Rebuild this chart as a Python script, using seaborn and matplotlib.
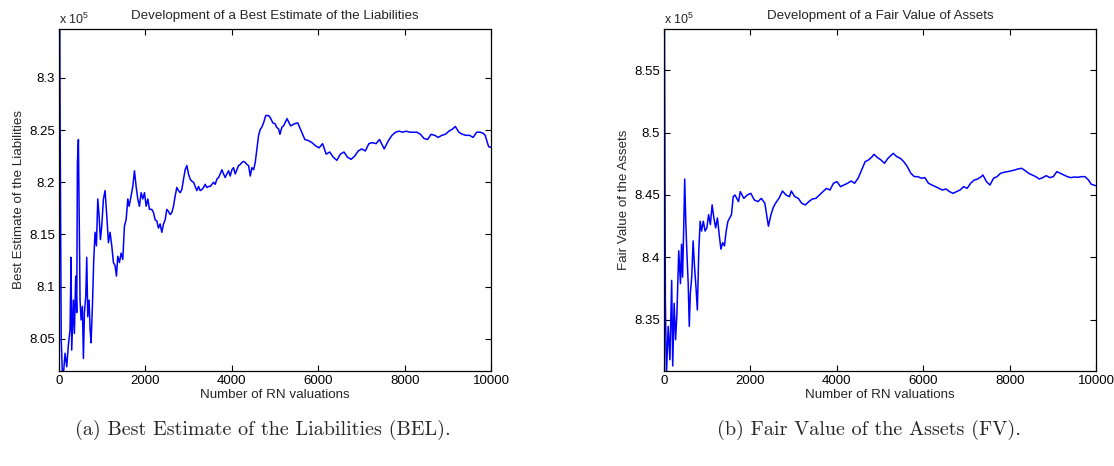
import numpy as np
import pandas as pd
import matplotlib
matplotlib.use("Agg")
import matplotlib.pyplot as plt
import seaborn as sns
from matplotlib.ticker import FuncFormatter, FixedLocator

# ---------------- data (values in units of 1e5) ----------------
bel_n = [1, 20, 50, 80, 100, 139, 178, 216, 255, 278, 293, 332, 355, 386, 409, 425, 448, 463,
         486, 510, 540, 564, 587, 618, 641, 664, 695, 718, 741, 772, 803, 834, 865, 896, 926,
         957, 988, 1027, 1065, 1104, 1143, 1181, 1220, 1258, 1297, 1328, 1359, 1397, 1436,
         1475, 1513, 1552, 1591, 1621, 1668, 1706, 1745, 1783, 1822, 1860, 1899, 1938, 1976,
         2015, 2054, 2092, 2146, 2185, 2223, 2262, 2300, 2339, 2378, 2416, 2455, 2493, 2532,
         2570, 2609, 2648, 2687, 2725, 2764, 2802, 2841, 2880, 2918, 2957, 2995, 3034, 3073,
         3111, 3150, 3189, 3227, 3266, 3304, 3343, 3381, 3420, 3459, 3497, 3536, 3575, 3613,
         3652, 3690, 3729, 3767, 3806, 3844, 3883, 3922, 3960, 3999, 4037, 4076, 4115, 4153,
         4192, 4231, 4269, 4308, 4346, 4385, 4424, 4462, 4501, 4539, 4578, 4617, 4658, 4694,
         4732, 4782, 4848, 4887, 4946, 5003, 5029, 5080, 5111, 5157, 5193, 5275, 5358, 5440,
         5522, 5604, 5687, 5769, 5851, 5934, 6016, 6098, 6180, 6263, 6345, 6427, 6509, 6592,
         6674, 6756, 6839, 6921, 7003, 7086, 7168, 7250, 7333, 7415, 7522, 7621, 7703, 7786,
         7868, 7950, 8032, 8115, 8197, 8279, 8361, 8444, 8526, 8608, 8691, 8773, 8855, 8938,
         9020, 9102, 9168, 9250, 9333, 9415, 9497, 9580, 9662, 9744, 9810, 9860, 9909, 9942,
         9991]
bel_v = [8.70, 8.30, 8.05, 8.012, 8.015, 8.036, 8.023, 8.044, 8.059, 8.128, 8.039, 8.087, 8.055,
         8.110, 8.075, 8.219, 8.241, 8.184, 8.087, 8.068, 8.081, 8.031, 8.075, 8.091, 8.128,
         8.071, 8.087, 8.059, 8.046, 8.081, 8.126, 8.152, 8.139, 8.184, 8.168, 8.145, 8.158,
         8.184, 8.192, 8.168, 8.142, 8.152, 8.139, 8.123, 8.120, 8.110, 8.129, 8.123, 8.132,
         8.126, 8.158, 8.164, 8.184, 8.177, 8.187, 8.196, 8.211, 8.196, 8.184, 8.177, 8.190,
         8.184, 8.190, 8.177, 8.184, 8.174, 8.174, 8.171, 8.164, 8.163, 8.156, 8.160, 8.152,
         8.160, 8.164, 8.174, 8.172, 8.169, 8.171, 8.177, 8.187, 8.195, 8.192, 8.190, 8.193,
         8.203, 8.212, 8.216, 8.208, 8.203, 8.201, 8.200, 8.196, 8.192, 8.196, 8.192, 8.193,
         8.195, 8.198, 8.195, 8.196, 8.196, 8.198, 8.200, 8.198, 8.203, 8.2045, 8.208, 8.212,
         8.208, 8.2045, 8.208, 8.211, 8.206, 8.212, 8.214, 8.208, 8.212, 8.216, 8.217, 8.219,
         8.220, 8.219, 8.217, 8.216, 8.206, 8.214, 8.212, 8.219, 8.232, 8.245, 8.251, 8.253,
         8.257, 8.264, 8.264, 8.262, 8.257, 8.256, 8.253, 8.251, 8.246, 8.253, 8.254, 8.261,
         8.254, 8.256, 8.257, 8.249, 8.241, 8.240, 8.238, 8.235, 8.233, 8.237, 8.227, 8.229,
         8.224, 8.221, 8.227, 8.229, 8.224, 8.222, 8.225, 8.230, 8.232, 8.230, 8.237, 8.238,
         8.237, 8.241, 8.232, 8.240, 8.245, 8.248, 8.249, 8.248, 8.249, 8.248, 8.248, 8.248,
         8.246, 8.242, 8.241, 8.246, 8.245, 8.243, 8.245, 8.246, 8.249, 8.251, 8.2535, 8.248,
         8.246, 8.245, 8.245, 8.243, 8.248, 8.248, 8.247, 8.245, 8.238, 8.234, 8.2335]

fv_n = [1, 33, 57, 98, 138, 179, 203, 236, 269, 301, 342, 382, 407, 431, 464, 480, 505, 529, 561,
        586, 610, 643, 675, 708, 741, 773, 806, 838, 871, 911, 952, 993, 1033, 1074, 1115, 1155,
        1196, 1237, 1278, 1318, 1359, 1400, 1440, 1481, 1522, 1562, 1603, 1644, 1725, 1766, 1847,
        1928, 2010, 2091, 2173, 2254, 2335, 2376, 2417, 2474, 2530, 2579, 2661, 2742, 2824, 2905,
        2946, 3027, 3108, 3190, 3271, 3352, 3434, 3515, 3597, 3678, 3759, 3841, 3922, 4003, 4085,
        4166, 4248, 4329, 4410, 4492, 4573, 4655, 4736, 4817, 4858, 4939, 5020, 5102, 5183, 5305,
        5387, 5468, 5549, 5631, 5712, 5794, 5875, 5956, 6038, 6119, 6200, 6282, 6363, 6444, 6526,
        6607, 6689, 6770, 6851, 6933, 7014, 7096, 7177, 7258, 7340, 7380, 7462, 7543, 7625, 7706,
        7787, 7869, 7950, 8031, 8113, 8194, 8276, 8357, 8438, 8520, 8601, 8683, 8764, 8845, 8927,
        9008, 9090, 9171, 9252, 9334, 9415, 9496, 9578, 9659, 9740, 9822, 9887, 9944, 9985]
fv_v = [8.70, 8.3658, 8.305, 8.3447, 8.318, 8.3816, 8.313, 8.3632, 8.334, 8.3553, 8.4053, 8.379,
        8.4105, 8.3842, 8.434, 8.4628, 8.429, 8.4053, 8.379, 8.3447, 8.371, 8.3842, 8.4132,
        8.3921, 8.3763, 8.3579, 8.4053, 8.429, 8.4211, 8.429, 8.4211, 8.4237, 8.4342, 8.4263,
        8.4421, 8.4316, 8.4237, 8.4316, 8.4184, 8.4066, 8.4118, 8.4092, 8.4211, 8.429, 8.4316,
        8.4342, 8.4487, 8.450, 8.4447, 8.4527, 8.4473, 8.450, 8.4513, 8.446, 8.4447, 8.4473,
        8.4433, 8.4342, 8.425, 8.434, 8.440, 8.4433, 8.4473, 8.4532, 8.450, 8.4487, 8.4532,
        8.4487, 8.4473, 8.4433, 8.442, 8.4447, 8.4468, 8.4473, 8.450, 8.4527, 8.4553, 8.454,
        8.4594, 8.4607, 8.4567, 8.458, 8.4594, 8.4612, 8.4594, 8.4634, 8.470, 8.4767, 8.4781,
        8.4807, 8.4826, 8.480, 8.4781, 8.4754, 8.4794, 8.4834, 8.4807, 8.4794, 8.4767, 8.4727,
        8.4674, 8.4647, 8.4647, 8.4634, 8.4639, 8.4594, 8.458, 8.4567, 8.4553, 8.454, 8.4548,
        8.4527, 8.4513, 8.4527, 8.454, 8.4567, 8.4553, 8.4594, 8.462, 8.4628, 8.4647, 8.466,
        8.4607, 8.458, 8.4634, 8.4647, 8.4674, 8.4682, 8.4687, 8.4693, 8.470, 8.4709, 8.4714,
        8.4695, 8.4674, 8.466, 8.4647, 8.4628, 8.4639, 8.4655, 8.4639, 8.4647, 8.4687, 8.4674,
        8.466, 8.4647, 8.4639, 8.4644, 8.4642, 8.4647, 8.4647, 8.462, 8.4586, 8.458, 8.4575]

x_ticks = [0, 2000, 4000, 6000, 8000, 10000]
bel_yticks = [8.05, 8.1, 8.15, 8.2, 8.25, 8.3]
fv_yticks = [8.35, 8.4, 8.45, 8.5, 8.55]

titles = ["Development of a Best Estimate of the Liabilities", "Development of a Fair Value of Assets"]
ylabels = ["Best Estimate of the Liabilities", "Fair Value of the Assets"]
xlabel = "Number of RN valuations"
captions = ["(a) Best Estimate of the Liabilities (BEL).", "(b) Fair Value of the Assets (FV)."]

# ---------------- style ----------------
sns.set_style("ticks")
plt.rcParams["font.family"] = ["Liberation Sans", "DejaVu Sans"]
plt.rcParams["mathtext.fontset"] = "custom"
plt.rcParams["mathtext.rm"] = "Liberation Sans"
plt.rcParams["mathtext.it"] = "Liberation Sans:italic"

fig = plt.figure(figsize=(11.14, 4.66), dpi=100)
axes = [fig.add_axes([0.053, 0.2039, 0.3880, 0.7339]),
        fig.add_axes([0.596, 0.2039, 0.3880, 0.7339])]

data = [(bel_n, bel_v, bel_yticks, (8.019, 8.347)),
        (fv_n, fv_v, fv_yticks, (8.309, 8.583))]

fmt = FuncFormatter(lambda v, p: "%g" % round(v, 4))
caption_x = [0.236, 0.780]

for i, (ax, (n, v, yt, yl)) in enumerate(zip(axes, data)):
    df = pd.DataFrame({"n": n, "v": v})
    sns.lineplot(data=df, x="n", y="v", ax=ax, color="#0000ff", linewidth=1.1,
                 estimator=None, sort=False)
    ax.set_xlim(0, 10000)
    ax.set_ylim(*yl)
    ax.xaxis.set_major_locator(FixedLocator(x_ticks))
    ax.yaxis.set_major_locator(FixedLocator(yt))
    ax.xaxis.set_major_formatter(fmt)
    ax.yaxis.set_major_formatter(fmt)
    ax.tick_params(direction="in", length=4, width=0.8, top=True, right=True,
                   labelsize=9.5, pad=3, colors="black")
    for s in ax.spines.values():
        s.set_visible(True)
        s.set_linewidth(0.9)
        s.set_color("black")
    ax.set_title(titles[i], fontsize=9.6, pad=7)
    ax.set_xlabel(xlabel, fontsize=9.6, labelpad=1)
    ax.set_ylabel(ylabels[i], fontsize=9.6, labelpad=3)
    ax.text(0.0, 1.006, r"x 10$^{5}$", transform=ax.transAxes, ha="left", va="bottom",
            fontsize=9)
    fig.text(caption_x[i], 0.077, captions[i], ha="center", va="center", fontsize=14.5,
             family="cmr10")

fig.savefig("out.png", dpi=100)
